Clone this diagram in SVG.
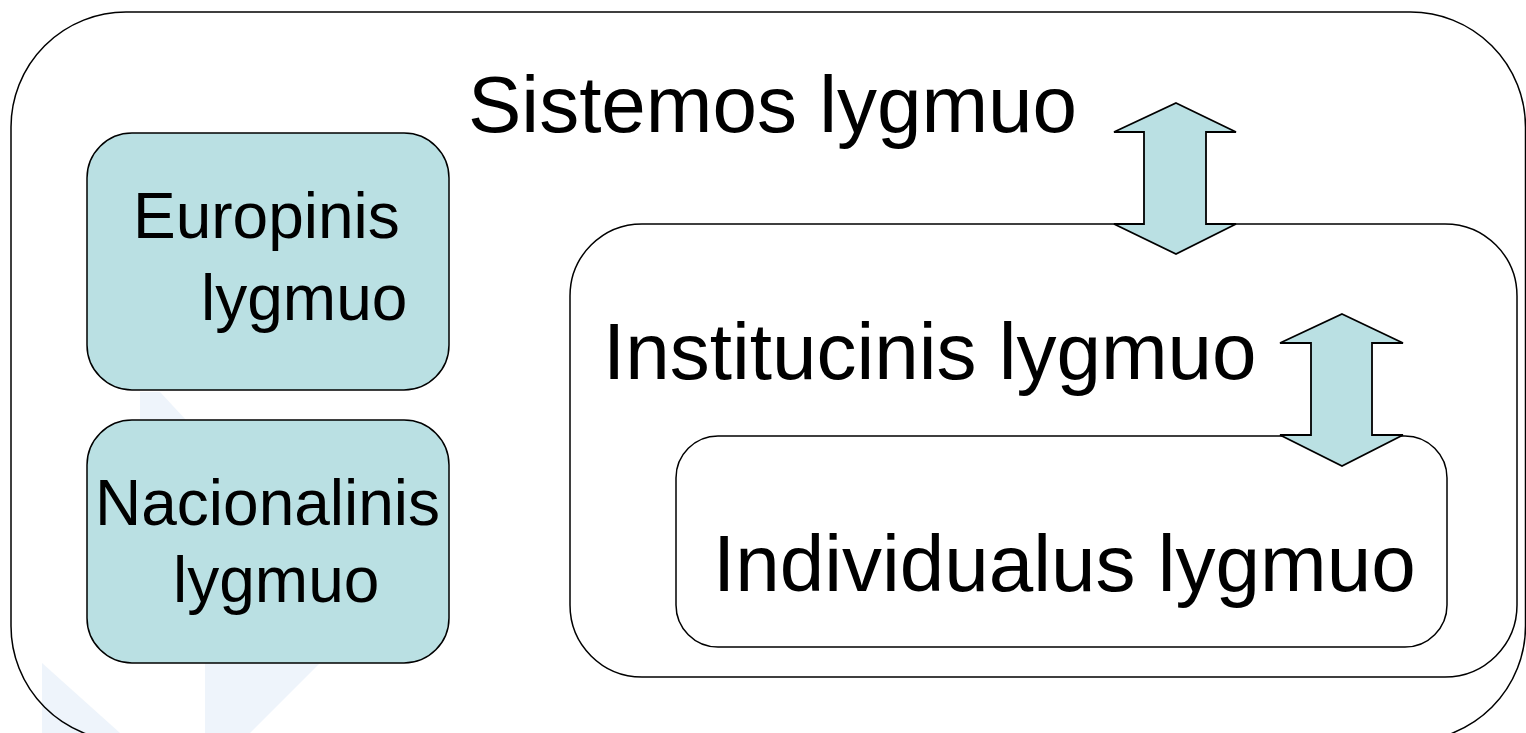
<svg xmlns="http://www.w3.org/2000/svg" width="1526" height="733" viewBox="0 0 1526 733">
<style>
.frame{fill:none;stroke:#000;stroke-width:1.5}
.box{fill:#bae0e3;stroke:#000;stroke-width:1.5}
.arrow{fill:#bae0e3;stroke:#000;stroke-width:1.8;stroke-linejoin:miter}
.t{font-family:"Liberation Sans",Arial,sans-serif;fill:#000}
.big{font-size:80px}
.small{font-size:64px}
.wm{fill:#eef4fb}
</style>
<rect width="1526" height="733" fill="#fff"/>
<g id="watermark">
<polygon class="wm" points="140,392 160,392 186,420 140,420"/>
<polygon class="wm" points="42,663 42,733 120,733"/>
<polygon class="wm" points="205,663 320,663 250,733 205,733"/>
</g>
<g id="sistemos">
<rect class="frame" x="11" y="12" width="1514.5" height="729" rx="115" ry="115"/>
<text class="t big" x="468" y="132">Sistemos lygmuo</text>
</g>
<g id="europinis">
<rect class="box" x="87" y="133" width="362" height="257" rx="45" ry="45"/>
<text class="t small" x="133" y="238">Europinis</text>
<text class="t small" x="201" y="320">lygmuo</text>
</g>
<g id="nacionalinis">
<rect class="box" x="87" y="420" width="362" height="243" rx="45" ry="45"/>
<text class="t small" x="95" y="525">Nacionalinis</text>
<text class="t small" x="173" y="602">lygmuo</text>
</g>
<g id="institucinis">
<rect class="frame" x="570" y="224" width="947" height="453" rx="72" ry="72"/>
<text class="t big" x="603" y="379">Institucinis lygmuo</text>
</g>
<g id="individualus">
<rect class="frame" x="676" y="436" width="771" height="211" rx="42" ry="42"/>
<text class="t big" x="713" y="591">Individualus lygmuo</text>
</g>
<g id="connectors">
<polygon class="arrow" points="1176,103 1236,132 1206,132 1206,224 1236,224 1176,254 1114,224 1144,224 1144,132 1114,132"/>
<polygon class="arrow" points="1342,314 1403,343 1372,343 1372,435 1403,435 1342,466 1280,435 1311,435 1311,343 1280,343"/>
</g>
</svg>
